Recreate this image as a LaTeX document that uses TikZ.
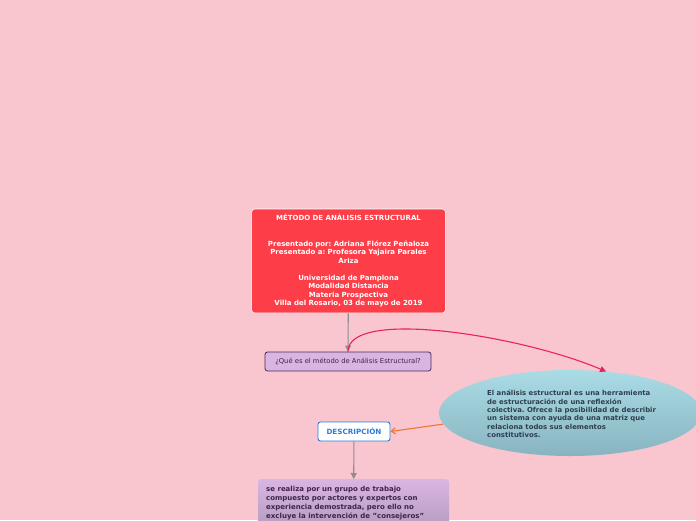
\documentclass[tikz,border=0pt]{standalone}
\usepackage{fontspec}
\setmainfont{DejaVu Sans}
\usetikzlibrary{arrows.meta,positioning,shapes.geometric}
\definecolor{blush}{HTML}{F9C5CF}
\definecolor{scarlet}{HTML}{FD3D47}
\definecolor{lilac}{HTML}{D9B6E2}
\definecolor{plum}{HTML}{4B2A55}
\definecolor{aqua}{HTML}{AADCE6}
\definecolor{aquadk}{HTML}{88B4C0}
\definecolor{slate}{HTML}{2E3F4E}
\definecolor{azure}{HTML}{2C7BE0}
\definecolor{mauve}{HTML}{A590AF}
\definecolor{ash}{HTML}{8E8E8E}
\definecolor{cerise}{HTML}{E8235E}
\definecolor{tangerine}{HTML}{F0763A}
\frenchspacing

\begin{document}
\begin{tikzpicture}[x=1pt,y=-1pt,
  title/.style={draw=white,line width=0.6pt,rounded corners=3pt,fill=scarlet,
    minimum width=191pt,minimum height=104pt,text width=187pt,align=center,
    text=white,font=\fontsize{7}{8.5}\selectfont\bfseries},
  question/.style={draw=plum,line width=0.8pt,rounded corners=2.5pt,fill=lilac,
    minimum width=166pt,minimum height=19pt,text=plum!80!black,
    font=\fontsize{6.8}{7}\selectfont},
  idea/.style={ellipse,top color=aqua,bottom color=aquadk,minimum width=262pt,
    minimum height=86pt,inner sep=0pt},
  heading/.style={draw=azure,line width=0.9pt,rounded corners=2.5pt,fill=white,
    minimum width=72pt,minimum height=19pt,text=azure,
    font=\fontsize{7.2}{8}\selectfont\bfseries},
  detail/.style={rounded corners=3pt,top color=lilac,bottom color=mauve,
    minimum width=191pt,minimum height=70pt,inner sep=0pt},
  body/.style={align=left,inner sep=0pt,font=\fontsize{6.9}{8.4}\selectfont\bfseries},
  link/.style={-{Triangle[length=6pt,width=6pt]},ash,line width=1.1pt},
  arc/.style={-{Triangle[length=6pt,width=6pt]},cerise,line width=1.1pt},
  back/.style={-{Straight Barb[length=4pt,width=6pt]},tangerine,line width=1.1pt}]
\useasboundingbox (0,0) rectangle (696,520);
\fill[blush] (0,0) rectangle (696,520);
\clip (0,0) rectangle (696,520);
% main topic
\node[title] (top) at (348.5,261) {MÉTODO DE ANÁLISIS ESTRUCTURAL\\[\baselineskip]\mbox{}\\
  Presentado por: Adriana Flórez Peñaloza\\Presentado a: Profesora Yajaira Parales\\Ariza\\[\baselineskip]
  Universidad de Pamplona\\Modalidad Distancia\\Materia Prospectiva\\Villa del Rosario, 03 de mayo de 2019};
\node[question] (q) at (348,361.5) {¿Qué es el método de Análisis Estructural?};
\node[idea] (e) at (570,413) {};
\node[body,text=slate,anchor=north west] (etext) at (487,390)
  {El análisis estructural es una herramienta\\de estructuración de una reflexión\\colectiva. Ofrece la posibilidad de describir\\un sistema con ayuda de una matriz que\\relaciona todos sus elementos\\constitutivos.};
\node[heading] (desc) at (354,431.5) {DESCRIPCIÓN};
\node[detail,anchor=north] (d) at (353.5,479) {};
\node[body,text=plum!85!black,anchor=north west,font=\fontsize{7}{9}\selectfont\bfseries] (dtext) at (266,486)
  {se realiza por un grupo de trabajo\\compuesto por actores y expertos con\\experiencia demostrada, pero ello no\\excluye la intervención de "consejeros"};
% connectors
\draw[link] (top) -- (q);
\draw[arc] (q.north) .. controls (348,308) and (520,335) .. (e.49);
\draw[back] (e.185) -- (desc.east);
\draw[link] (desc) -- (d);
\end{tikzpicture}
\end{document}
